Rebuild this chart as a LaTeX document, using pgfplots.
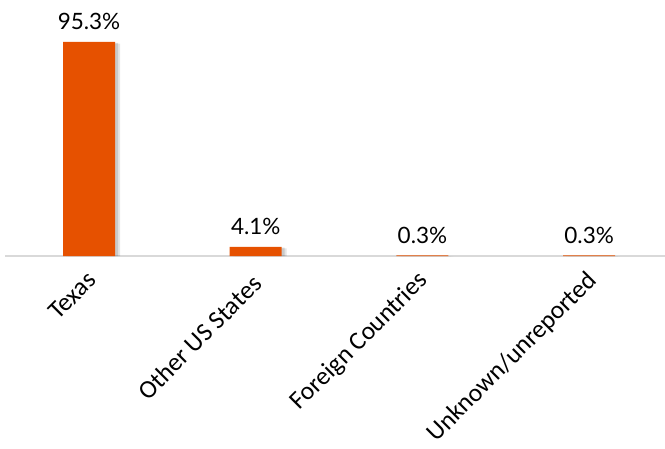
\documentclass[border=0pt]{standalone}
\usepackage{fontspec}
\setmainfont{Lato}
\newfontfamily\catfont{Carlito}
\usepackage{pgfplots}
\pgfplotsset{compat=1.18}
\definecolor{barorange}{HTML}{E65100}
\definecolor{axisgray}{HTML}{D9D9D9}
\tikzset{catlab/.style={font=\catfont\fontsize{25.5}{29}\selectfont, rotate=45, anchor=north east, inner sep=0pt, text height=0.644em, text depth=0.2em}}
\begin{document}
\begin{tikzpicture}
\path[use as bounding box] (-5pt,-192pt) rectangle (660pt,256pt);
\clip (-5pt,-192pt) rectangle (660pt,256pt);
\begin{axis}[
  at={(0pt,0pt)}, anchor=south west, scale only axis,
  width=660pt, height=256pt,
  xmin=-0.504, xmax=3.455, ymin=0, ymax=114,
  axis x line*=bottom, axis y line=none,
  x axis line style={draw=axisgray, line width=2pt},
  xtick={0,1,2,3},
  xticklabels={},
  major tick length=0pt,
  xtick style={draw=none},
  ybar, bar width=52pt,
  clip=false,
]
\addplot[fill=black, draw=none, opacity=0.10, bar shift=5pt, forget plot]
  coordinates {(0,94.6) (1,3.4) (2,0) (3,0)};
\addplot[fill=black, draw=none, opacity=0.12, bar shift=3pt, forget plot]
  coordinates {(0,94.9) (1,3.7) (2,0) (3,0)};
\addplot[fill=barorange, draw=none, bar shift=0pt,
  point meta=explicit symbolic, nodes near coords,
  nodes near coords style={font=\fontsize{22.5}{27}\selectfont, anchor=base, inner sep=0pt, yshift=12pt, text=black}]
  coordinates {(0,95.3) [95.3\%] (1,4.1) [4.1\%] (2,0.3) [0.3\%] (3,0.3) [0.3\%]};
\node[catlab] at ([xshift=4pt,yshift=-21pt]axis cs:0,0) {Texas};
\node[catlab] at ([xshift=3pt,yshift=-25pt]axis cs:1,0) {Other US States};
\node[catlab] at ([xshift=2pt,yshift=-21pt]axis cs:2,0) {Foreign Countries};
\node[catlab] at ([xshift=4pt,yshift=-21pt]axis cs:3,0) {Unknown/unreported};
\end{axis}
\end{tikzpicture}
\end{document}
